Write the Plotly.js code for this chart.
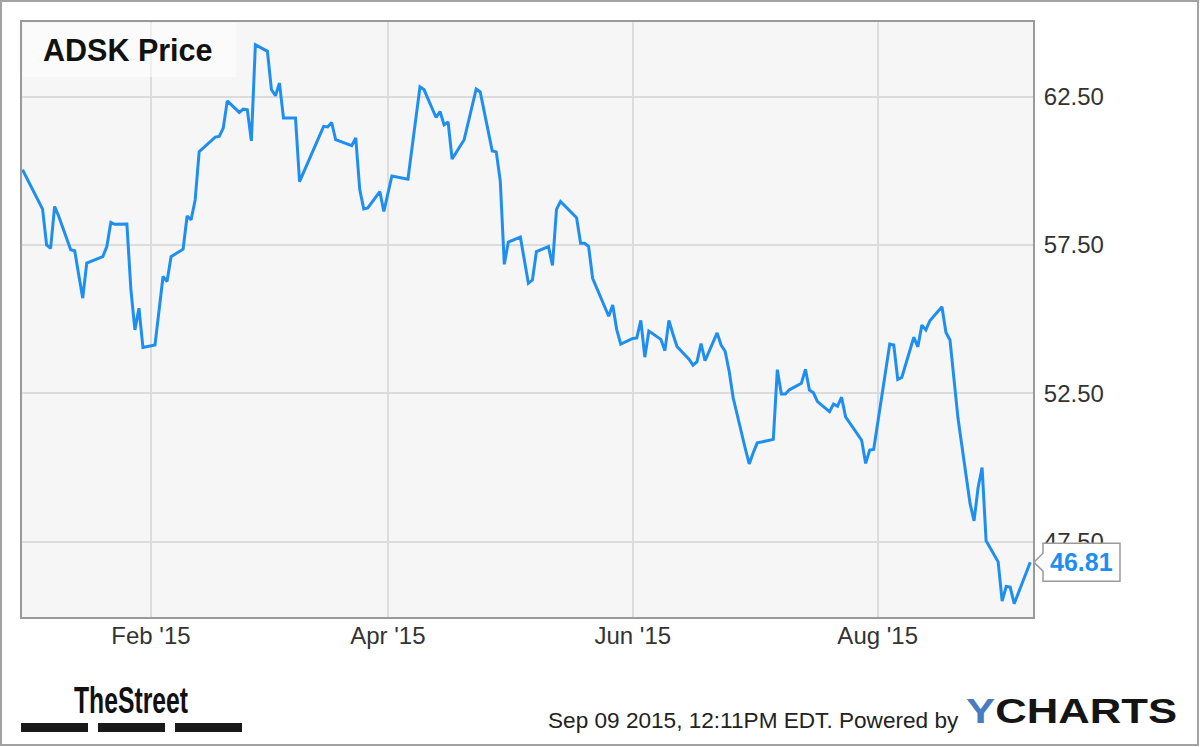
<!DOCTYPE html>
<html><head><meta charset="utf-8">
<script src="https://cdn.plot.ly/plotly-3.0.1.min.js"></script>
<style>
html,body{margin:0;padding:0;background:#fff;}
#frame{position:absolute;left:0;top:0;width:1199px;height:746px;box-sizing:border-box;border:2px solid #a3a3a3;background:#fff;}
#chart{position:absolute;left:0;top:0;width:1195px;height:742px;}
</style></head>
<body><div id="frame"><div id="chart"></div></div>
<script>
// ---- data ----
const dates = [
 '2014-12-31','2015-01-05','2015-01-06','2015-01-07','2015-01-08','2015-01-09','2015-01-12','2015-01-13','2015-01-14','2015-01-15',
 '2015-01-16','2015-01-20','2015-01-21','2015-01-22','2015-01-23','2015-01-26','2015-01-27','2015-01-28','2015-01-29','2015-01-30',
 '2015-02-02','2015-02-03','2015-02-04','2015-02-05','2015-02-06','2015-02-09','2015-02-10','2015-02-11','2015-02-12','2015-02-13',
 '2015-02-17','2015-02-18','2015-02-19','2015-02-20','2015-02-23','2015-02-24','2015-02-25','2015-02-26','2015-02-27','2015-03-02',
 '2015-03-03','2015-03-04','2015-03-05','2015-03-06','2015-03-09','2015-03-10','2015-03-16','2015-03-17','2015-03-18','2015-03-19',
 '2015-03-23','2015-03-24','2015-03-25','2015-03-26','2015-03-27','2015-03-30','2015-03-31','2015-04-02','2015-04-06','2015-04-09',
 '2015-04-10','2015-04-13','2015-04-14','2015-04-15','2015-04-16','2015-04-17','2015-04-20','2015-04-23','2015-04-24','2015-04-27',
 '2015-04-28','2015-04-29','2015-04-30','2015-05-01','2015-05-04','2015-05-06','2015-05-07','2015-05-08','2015-05-11','2015-05-12',
 '2015-05-13','2015-05-14','2015-05-18','2015-05-19','2015-05-20','2015-05-21','2015-05-22','2015-05-26','2015-05-27','2015-05-28',
 '2015-05-29','2015-06-01','2015-06-02','2015-06-03','2015-06-04','2015-06-05','2015-06-08','2015-06-09','2015-06-10','2015-06-11',
 '2015-06-12','2015-06-15','2015-06-16','2015-06-17','2015-06-18','2015-06-19','2015-06-22','2015-06-23','2015-06-24','2015-06-25',
 '2015-06-26','2015-06-29','2015-06-30','2015-07-01','2015-07-02','2015-07-06','2015-07-07','2015-07-08','2015-07-09','2015-07-10',
 '2015-07-13','2015-07-14','2015-07-15','2015-07-16','2015-07-17','2015-07-20','2015-07-21','2015-07-22','2015-07-23','2015-07-24',
 '2015-07-27','2015-07-28','2015-07-29','2015-07-30','2015-07-31','2015-08-03','2015-08-04','2015-08-05','2015-08-06','2015-08-07',
 '2015-08-10','2015-08-11','2015-08-12','2015-08-13','2015-08-14','2015-08-17','2015-08-18','2015-08-19','2015-08-20','2015-08-21',
 '2015-08-24','2015-08-25','2015-08-26','2015-08-27','2015-08-28','2015-08-31','2015-09-01','2015-09-02','2015-09-03','2015-09-04',
 '2015-09-08'
];
const prices = [
 60.04,58.71,57.50,57.39,58.80,58.48,57.34,57.31,56.50,55.71,
 56.89,57.11,57.45,58.26,58.20,58.21,55.99,54.64,55.37,54.05,
 54.13,55.30,56.44,56.27,57.11,57.36,58.48,58.35,59.02,60.65,
 61.14,61.16,61.44,62.36,61.97,62.08,62.06,61.01,64.25,64.03,
 62.74,62.53,62.96,61.78,61.78,59.64,61.50,61.48,61.63,61.05,
 60.85,61.11,59.36,58.72,58.75,59.30,58.63,59.83,59.72,62.83,
 62.74,61.80,62.00,61.55,61.65,60.40,61.05,62.76,62.66,60.67,
 60.64,59.65,56.85,57.60,57.77,56.21,56.32,57.28,57.45,56.81,
 58.70,58.97,58.42,57.56,57.56,57.45,56.38,55.10,55.48,54.65,
 54.16,54.35,54.37,54.96,53.72,54.60,54.32,53.94,54.96,54.50,
 54.08,53.65,53.45,53.57,54.18,53.60,54.54,54.13,53.92,53.25,
 52.35,50.65,50.12,50.50,50.83,50.95,53.30,52.48,52.48,52.62,
 52.84,53.31,52.61,52.52,52.22,51.88,52.14,52.07,52.37,51.71,
 51.10,50.92,50.14,50.59,50.61,53.33,54.16,54.13,52.97,53.04,
 54.39,54.07,54.80,54.64,54.95,55.42,54.55,54.30,52.90,51.66,
 48.79,48.20,49.32,50.00,47.53,46.82,45.50,45.99,45.97,45.41,
 46.81
];
const yTickVals = [47.5, 52.5, 57.5, 62.5];
const yTickText = ['47.50', '52.50', '57.50', '62.50'];
const xTickVals = ['2015-02-01', '2015-04-01', '2015-06-01', '2015-08-01'];
const xTickText = ["Feb '15", "Apr '15", "Jun '15", "Aug '15"];
const chartTitle = 'ADSK Price';
const footerText = 'Sep 09 2015, 12:11PM EDT. Powered by';
const lastValue = prices[prices.length - 1];

// ---- layout geometry (page pixels) ----
const PL = 22, PT = 22, PW = 1011, PH = 595;
const YMIN = 44.962, YMAX = 65.018;
const X = px => (px - PL) / PW;
const Y = py => (PT + PH - py) / PH;
const pyLast = PT + PH - (lastValue - YMIN) / (YMAX - YMIN) * PH;

const FONT = 'Liberation Sans, Arial, Helvetica, sans-serif';
const BLUE = '#1e8ff0';

function pathStr(){
  const pts = [[1034,pyLast],[1043,pyLast-9],[1043,pyLast-19],[1120,pyLast-19],[1120,pyLast+19],[1043,pyLast+19],[1043,pyLast+9]];
  return pts.map((p,i)=> (i?'L':'M') + X(p[0]).toFixed(5) + ',' + Y(p[1]).toFixed(5)).join(' ') + ' Z';
}

const bars = [[21,88],[98,165],[175,242]];

const shapes = [
  {type:'rect', xref:'paper', yref:'paper', x0:X(23), x1:X(236), y0:Y(77), y1:Y(23),
   fillcolor:'rgba(255,255,255,0.55)', line:{width:0}, layer:'above'},
  {type:'path', xref:'paper', yref:'paper', path:pathStr(),
   fillcolor:'#ffffff', line:{color:'#9a9a9a', width:1.5}, layer:'above'}
].concat(bars.map(b => ({type:'rect', xref:'paper', yref:'paper', x0:X(b[0]), x1:X(b[1]), y0:Y(732), y1:Y(723),
   fillcolor:'#1a1a1a', line:{width:0}, layer:'above'})));

const annotations = [
  {text:'<b>' + chartTitle + '</b>', xref:'paper', yref:'paper', x:X(41), y:Y(50), xanchor:'left', yanchor:'middle',
   showarrow:false, font:{family:FONT, size:30.5, color:'#111'}},
  {text:'<b>' + lastValue.toFixed(2) + '</b>', xref:'paper', yref:'paper', x:X(1081), y:Y(pyLast), xanchor:'center', yanchor:'middle',
   showarrow:false, font:{family:FONT, size:25, color:BLUE}},
  {text:'<b>TheStreet</b>', xref:'paper', yref:'paper', x:X(131), y:Y(700), xanchor:'center', yanchor:'middle',
   showarrow:false, font:{family:FONT, size:36, color:'#111'}},
  {text:footerText, xref:'paper', yref:'paper', x:X(961), y:Y(720), xanchor:'right', yanchor:'middle',
   showarrow:false, font:{family:FONT, size:22.6, color:'#222'}},
  {text:'<b><span style="color:#4b7bbf">Y</span>CHARTS</b>', xref:'paper', yref:'paper', x:X(1071.5), y:Y(711), xanchor:'center', yanchor:'middle',
   showarrow:false, font:{family:FONT, size:35, color:'#151515'}}
];

const trace = {
  x: dates, y: prices, type:'scatter', mode:'lines',
  line:{color:BLUE, width:3}, hoverinfo:'skip'
};

const layout = {
  width:1195, height:742,
  margin:{l:20, t:20, r:164, b:127, pad:0},
  paper_bgcolor:'#ffffff', plot_bgcolor:'#f6f6f6',
  showlegend:false,
  font:{family:FONT, color:'#333'},
  xaxis:{
    type:'date', range:['2014-12-30 21:00','2015-09-08 16:20'],
    tickmode:'array', tickvals:xTickVals, ticktext:xTickText,
    showgrid:true, gridcolor:'#dcdcdc', gridwidth:2,
    showline:true, mirror:true, linecolor:'#9a9a9a', linewidth:2,
    ticks:'', zeroline:false, fixedrange:true,
    tickfont:{family:FONT, size:24, color:'#333'}, ticklabelstandoff:-4
  },
  yaxis:{
    side:'right', range:[YMIN, YMAX],
    tickmode:'array', tickvals:yTickVals, ticktext:yTickText,
    showgrid:true, gridcolor:'#dcdcdc', gridwidth:2,
    showline:true, mirror:true, linecolor:'#9a9a9a', linewidth:2,
    ticks:'', zeroline:false, fixedrange:true,
    tickfont:{family:FONT, size:24, color:'#333'}, ticklabelstandoff:4
  },
  shapes: shapes,
  annotations: annotations
};

Plotly.newPlot('chart', [trace], layout, {displayModeBar:false, staticPlot:true}).then(() => {
  const texts = document.querySelectorAll('#chart .annotation-text');
  const fit = (idx, len) => {
    const t = texts[idx];
    if (t) { t.setAttribute('textLength', len); t.setAttribute('lengthAdjust', 'spacingAndGlyphs'); }
  };
  fit(2, 114);
  fit(4, 211);
});
</script>
</body></html>
